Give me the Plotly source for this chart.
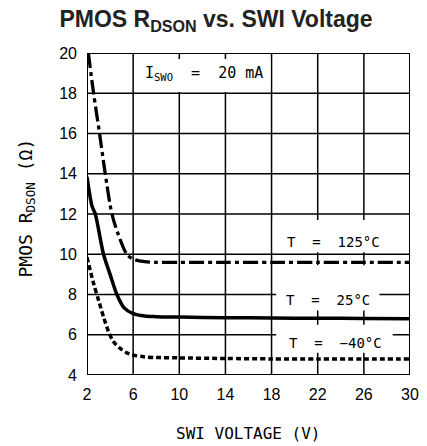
import plotly.graph_objects as go

# Data
x_125 = [2.12, 2.57, 3.09, 3.58, 4.16, 4.7, 5.45, 6.0, 7.0, 8.0, 10, 14, 18, 22, 26, 30]
y_125 = [20.0, 18.0, 16.0, 14.0, 12.0, 11.0, 10.0, 9.76, 9.63, 9.6, 9.6, 9.6, 9.6, 9.6, 9.6, 9.6]

x_25 = [2.0, 2.43, 2.72, 3.43, 4.0, 4.59, 5.2, 6.0, 7.0, 8.0, 10, 14, 18, 22, 26, 30]
y_25 = [13.85, 12.4, 12.0, 10.0, 9.0, 8.0, 7.35, 7.05, 6.93, 6.9, 6.88, 6.85, 6.83, 6.82, 6.81, 6.8]

x_m40 = [2.0, 2.57, 3.0, 3.43, 3.87, 4.3, 4.88, 5.45, 6.0, 7.0, 8.0, 10, 14, 18, 22, 26, 30]
y_m40 = [9.85, 8.55, 7.72, 6.89, 6.15, 5.65, 5.32, 5.1, 4.99, 4.9, 4.87, 4.85, 4.82, 4.8, 4.8, 4.8, 4.8]

x_ticks = [2, 6, 10, 14, 18, 22, 26, 30]
y_ticks = [4, 6, 8, 10, 12, 14, 16, 18, 20]

MONO = "DejaVu Sans Mono"
SANS = "Liberation Sans, Arial, sans-serif"

# the page body adds an 8px offset; margins are shifted to compensate
OFF = 8
W, H = 427, 446
L, T = 87 - OFF, 53 - OFF
PW, PH = 410 - 87, 375 - 53
R, B = W - L - PW, H - T - PH

xr = [x_ticks[0], x_ticks[-1]]
yr = [y_ticks[0], y_ticks[-1]]

fig = go.Figure()

# grid lines at the tick values
gx, gy = [], []
for xv in x_ticks[1:-1]:
    gx += [xv, xv, None]
    gy += [yr[0], yr[1], None]
for yv in y_ticks[1:-1]:
    gx += [xr[0], xr[1], None]
    gy += [yv, yv, None]
fig.add_trace(go.Scatter(x=gx, y=gy, mode="lines", line=dict(color="black", width=1.5),
                         hoverinfo="skip", showlegend=False))

# white boxes that break the grid behind the labels
boxes = [
    (6.1, 17.9, 18.06, 19.7),
    (18.1, 29.9, 10.1, 11.7),
    (18.4, 27.35, 7.2, 9.45),
    (18.4, 28.5, 5.1, 6.5),
]
bx, by = [], []
for x0, x1, y0, y1 in boxes:
    bx += [x0, x1, x1, x0, x0, None]
    by += [y0, y0, y1, y1, y0, None]
fig.add_trace(go.Scatter(x=bx, y=by, mode="lines", fill="toself", fillcolor="white",
                         line=dict(width=0, color="white"), hoverinfo="skip", showlegend=False))

# plot frame
fig.add_trace(go.Scatter(x=[xr[0], xr[1], xr[1], xr[0], xr[0]], y=[yr[0], yr[0], yr[1], yr[1], yr[0]],
                         mode="lines", line=dict(color="black", width=2), cliponaxis=False,
                         hoverinfo="skip", showlegend=False))

fig.add_trace(go.Scatter(x=x_125, y=y_125, mode="lines", name="T = 125°C",
                         line=dict(color="black", width=3.3, dash="15px,4px,4px,4px", shape="spline", smoothing=0.8)))
fig.add_trace(go.Scatter(x=x_25, y=y_25, mode="lines", name="T = 25°C",
                         line=dict(color="black", width=3.5, shape="spline", smoothing=0.8)))
fig.add_trace(go.Scatter(x=x_m40, y=y_m40, mode="lines", name="T = −40°C",
                         line=dict(color="black", width=3.5, dash="5px,3px", shape="spline", smoothing=0.8)))

labels = [
    ("I<sub>SWO</sub>  =  20 mA", 12.1, 19.0, 15),
    ("T  =  125°C", 23.4, 10.6, 14),
    ("T  =  25°C", 22.9, 7.72, 14),
    ("T  =  −40°C", 23.5, 5.59, 14),
]
for txt, x, y, fs in labels:
    fig.add_annotation(x=x, y=y, xref="x", yref="y", text=txt, showarrow=False,
                       font=dict(family=MONO, size=fs, color="black"))

# axis titles placed in page pixels
def px_x(p):
    return (p - OFF - L) / PW

def px_y(p):
    return (T + PH - (p - OFF)) / PH

fig.add_annotation(x=px_x(248), y=px_y(433), xref="paper", yref="paper",
                   text="SWI VOLTAGE (V)", showarrow=False, xanchor="center", yanchor="middle",
                   font=dict(family=MONO, size=16, color="black"))
fig.add_annotation(x=px_x(26.5), y=px_y(208), xref="paper", yref="paper",
                   text="PMOS R<sub>DSON</sub> (Ω)", showarrow=False, textangle=-90,
                   xanchor="center", yanchor="middle",
                   font=dict(family=MONO, size=18, color="black"))

fig.update_layout(
    width=W, height=H,
    margin=dict(l=L, r=R, t=T, b=B, autoexpand=False),
    paper_bgcolor="white", plot_bgcolor="white",
    showlegend=False,
    title=dict(text="<b>PMOS R<sub>DSON</sub> vs. SWI Voltage</b>", x=(216 - OFF) / W, xref="container",
               y=1 - (19 - OFF) / H, yref="container", yanchor="middle", xanchor="center",
               font=dict(family=SANS, size=23, color="#222")),
    xaxis=dict(range=xr, tickvals=x_ticks, ticktext=[str(v) for v in x_ticks],
               showgrid=False, showline=False,
               ticks="", ticklabelstandoff=8, automargin=False,
               tickfont=dict(family=SANS, size=16, color="black"),
               zeroline=False, fixedrange=True),
    yaxis=dict(range=yr, tickvals=y_ticks, ticktext=[str(v) for v in y_ticks],
               showgrid=False, showline=False,
               ticks="", ticklabelstandoff=9, automargin=False,
               tickfont=dict(family=SANS, size=16, color="black"),
               zeroline=False, fixedrange=True),
)

fig.write_html("out.html")
